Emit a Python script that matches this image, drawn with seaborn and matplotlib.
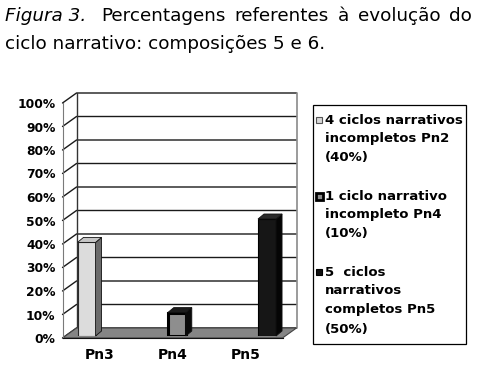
import matplotlib
matplotlib.use("Agg")
import matplotlib.pyplot as plt
import seaborn as sns
from matplotlib.patches import Polygon, Rectangle

# data
categories = ["Pn3", "Pn4", "Pn5"]
percentages = [40, 10, 50]
y_ticks = list(range(0, 101, 10))
legend_lines = [
    ["4 ciclos narrativos", "incompletos Pn2", "(40%)"],
    ["1 ciclo narrativo", "incompleto Pn4", "(10%)"],
    ["5  ciclos", "narrativos", "completos Pn5", "(50%)"],
]
title_italic = "Figura 3."
title_line1 = "Percentagens referentes à evolução do"
title_line2 = "ciclo narrativo: composições 5 e 6."

# bar styling (front, side, top, edge)
front_colors = ["#dcdcdc", "#8e8e8e", "#161616"]
side_colors = ["#6a6a6a", "#0a0a0a", "#050505"]
top_colors = ["#c6c6c6", "#1c1c1c", "#2a2a2a"]
edge_colors = ["#2b2b2b", "#000000", "#000000"]
edge_widths = [0.8, 2.2, 0.8]
legend_fc = ["#d8d8d8", "#8e8e8e", "#111111"]
legend_ec = ["#555555", "#000000", "#000000"]
legend_lw = [0.8, 2.0, 0.8]

sns.set_style("white")
plt.rcParams["font.family"] = ["DejaVu Sans"]
plt.rcParams["text.color"] = "black"
plt.rcParams["xtick.color"] = "black"
plt.rcParams["ytick.color"] = "black"

W, H = 479, 369
fig = plt.figure(figsize=(W / 100, H / 100), dpi=100)


def fx(x):
    return x / W


def fy(y):
    return 1 - y / H


# front plane axes (axis, floor, walls, grid)
ax = fig.add_axes([fx(62.5), fy(338), 220 / W, 235 / H])
ax.set_xlim(-0.5, 2.5)
ax.set_ylim(0, 100)
ax.patch.set_alpha(0)
ddx = 14 / 220 * 3
ddy = 10 / 235 * 100

for t in y_ticks:
    ax.plot([-0.5, -0.5 + ddx, 2.5 + ddx], [t, t + ddy, t + ddy],
            color="#1a1a1a", lw=1, clip_on=False, zorder=1)
ax.plot([-0.5 + ddx] * 2, [ddy, 100 + ddy], color="#333333", lw=1, clip_on=False)
ax.plot([2.5 + ddx] * 2, [ddy, 100 + ddy], color="#8a8a8a", lw=1.2, clip_on=False)
floor = Polygon([(-0.5, 0), (2.5, 0), (2.5 + ddx, ddy), (-0.5 + ddx, ddy)],
                closed=True, fc="#858585", ec="#444444", lw=0.8, clip_on=False, zorder=2)
ax.add_patch(floor)

for side in ["top", "right"]:
    ax.spines[side].set_visible(False)
ax.spines["left"].set_color("#7a7a7a")
ax.spines["bottom"].set_color("#111111")
ax.spines["bottom"].set_zorder(3)

ax.set_yticks(y_ticks)
ax.set_yticklabels([f"{t}%" for t in y_ticks], fontsize=8.8, fontweight="bold")
ax.set_xticks(range(len(categories)))
ax.set_xticklabels(categories, fontsize=10, fontweight="bold")
ax.set_xticks([-0.5, 0.5, 1.5, 2.5], minor=True)
ax.tick_params(axis="x", which="major", length=0, pad=7)
ax.tick_params(axis="x", which="minor", length=3, color="#555555", direction="out")
ax.tick_params(axis="y", length=3, color="#555555", direction="out", pad=2)

# bars (sit at mid depth, so their own scale)
bax = fig.add_axes([fx(41.4), fy(336), 270.75 / W, 234 / H])
sns.barplot(x=categories, y=percentages, hue=categories, palette=front_colors,
            legend=False, width=0.2, saturation=1, ax=bax)
bax.set_xlim(-0.5, 2.5)
bax.set_ylim(0, 100)
bax.axis("off")
bdx = 6 / 90.25
bdy = 5 / 234 * 100
bars = sorted(bax.patches, key=lambda p: p.get_x())
for i, p in enumerate(bars):
    p.set_edgecolor(edge_colors[i])
    p.set_linewidth(edge_widths[i])
    x0, w, h = p.get_x(), p.get_width(), p.get_height()
    side = Polygon([(x0 + w, 0), (x0 + w + bdx, bdy), (x0 + w + bdx, h + bdy), (x0 + w, h)],
                   closed=True, fc=side_colors[i], ec="#111111", lw=0.6, clip_on=False)
    top = Polygon([(x0, h), (x0 + bdx, h + bdy), (x0 + w + bdx, h + bdy), (x0 + w, h)],
                  closed=True, fc=top_colors[i], ec="#111111", lw=0.6, clip_on=False)
    bax.add_patch(side)
    bax.add_patch(top)

# legend box
fig.patches.append(Rectangle((fx(313), fy(344)), (466 - 313) / W, (344 - 105) / H,
                             transform=fig.transFigure, fc="white", ec="black", lw=0.9))
y = 120
for i, lines in enumerate(legend_lines):
    s = 6 if i != 1 else 7
    fig.patches.append(Rectangle((fx(319 - s / 2), fy(y + s / 2)), s / W, s / H,
                                 transform=fig.transFigure, fc=legend_fc[i],
                                 ec=legend_ec[i], lw=legend_lw[i]))
    for line in lines:
        fig.text(fx(325), fy(y), line, fontsize=9.5, fontweight="bold",
                 va="center", ha="left")
        y += 19
    y += 19

# caption above the chart (first line justified to the right edge)
fig.text(fx(5), fy(21), title_italic, fontsize=13.2, style="italic", va="baseline")
renderer = fig.canvas.get_renderer()
words = title_line1.split()
word_texts = [fig.text(0, fy(21), wd, fontsize=13.2, va="baseline") for wd in words]
widths = [t.get_window_extent(renderer).width for t in word_texts]
start, end = 101, 472
gap = (end - start - sum(widths)) / (len(words) - 1)
x = start
for t, wdt in zip(word_texts, widths):
    t.set_x(fx(x))
    x += wdt + gap
fig.text(fx(5), fy(49), title_line2, fontsize=13.2, va="baseline")

fig.savefig("out.png", dpi=100)
